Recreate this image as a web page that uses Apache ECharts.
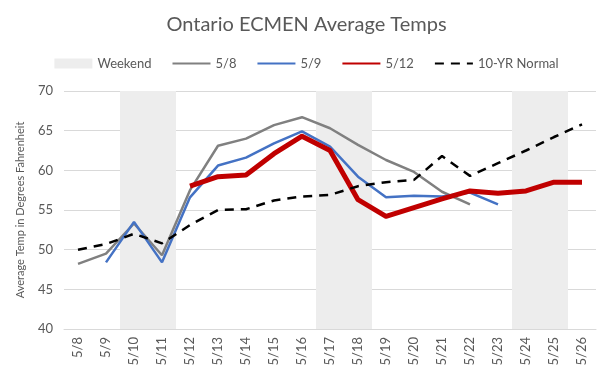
<!DOCTYPE html>
<html>
<head>
<meta charset="utf-8">
<script src="https://cdn.jsdelivr.net/npm/echarts@6/dist/echarts.min.js"></script>
<style>
html, body { margin: 0; padding: 0; background: #fff; }
#chart { width: 613px; height: 375px; }
</style>
</head>
<body>
<div id="chart"></div>
<script>
// categories (forecast days)
var days = ['5/8','5/9','5/10','5/11','5/12','5/13','5/14','5/15','5/16','5/17','5/18','5/19','5/20','5/21','5/22','5/23','5/24','5/25','5/26'];
// weekend shading (full height up to axis max)
var weekend = [null,null,70,70,null,null,null,null,null,70,70,null,null,null,null,null,70,70,null];
// model runs
var run58 = [48.2,49.5,53.3,49.3,57.5,63.1,64.0,65.7,66.7,65.3,63.2,61.3,59.8,57.3,55.7,null,null,null,null];
var run59 = [null,48.4,53.5,48.4,56.6,60.6,61.6,63.4,64.9,63.0,59.2,56.6,56.8,56.7,57.2,55.7,null,null,null];
var run512 = [null,null,null,null,58.0,59.2,59.4,62.1,64.3,62.5,56.3,54.2,55.3,56.4,57.4,57.1,57.4,58.5,58.5];
var normal10 = [50.0,50.7,52.0,50.8,53.1,55.0,55.1,56.2,56.7,56.9,58.0,58.5,58.8,61.8,59.3,60.9,62.5,64.2,65.8];

var txt = '#595959';
var font = 'Lato';
// hide the point symbol in the legend, keep the line
var noDot = { opacity: 0 };

var myChart = echarts.init(document.getElementById('chart'));

var option = {
    animation: false,
    title: {
        text: 'Ontario ECMEN Average Temps',
        left: 'center',
        top: 10,
        textStyle: { fontFamily: font, fontSize: 20, fontWeight: 'normal', color: txt }
    },
    legend: {
        top: 52,
        left: 'center',
        itemWidth: 38,
        itemHeight: 10,
        itemGap: 20,
        textStyle: { fontFamily: font, fontSize: 13, color: txt },
        data: [
            { name: 'Weekend', icon: 'rect' },
            { name: '5/8', itemStyle: noDot },
            { name: '5/9', itemStyle: noDot },
            { name: '5/12', itemStyle: noDot },
            { name: '10-YR Normal', itemStyle: noDot }
        ]
    },
    grid: { left: 64, right: 17, top: 91, bottom: 46 },
    xAxis: {
        type: 'category',
        data: days,
        axisLine: { lineStyle: { color: '#d9d9d9' } },
        axisTick: { length: 5, lineStyle: { color: '#d9d9d9' } },
        axisLabel: { interval: 0, rotate: 90, margin: 8, fontFamily: font, fontSize: 13, color: txt }
    },
    yAxis: {
        type: 'value',
        min: 40,
        max: 70,
        interval: 5,
        name: 'Average Temp in Degrees Fahrenheit',
        nameLocation: 'middle',
        nameGap: 38,
        nameTextStyle: { fontFamily: font, fontSize: 11, color: txt },
        axisLine: { show: false },
        axisTick: { show: false },
        axisLabel: { margin: 11, fontFamily: font, fontSize: 13, color: txt },
        splitLine: { lineStyle: { color: '#d9d9d9' } }
    },
    series: [
        {
            name: 'Weekend',
            type: 'bar',
            data: weekend,
            barWidth: '100%',
            itemStyle: { color: '#ededed' },
            z: 1
        },
        {
            name: '5/8',
            type: 'line',
            data: run58,
            symbol: 'none',
            lineStyle: { color: '#808080', width: 2.5 },
            itemStyle: { color: '#808080' },
            z: 3
        },
        {
            name: '5/9',
            type: 'line',
            data: run59,
            symbol: 'none',
            lineStyle: { color: '#4472c4', width: 2.5 },
            itemStyle: { color: '#4472c4' },
            z: 4
        },
        {
            name: '5/12',
            type: 'line',
            data: run512,
            symbol: 'none',
            lineStyle: { color: '#c00000', width: 5, join: 'round' },
            itemStyle: { color: '#c00000' },
            z: 5
        },
        {
            name: '10-YR Normal',
            type: 'line',
            data: normal10,
            symbol: 'none',
            lineStyle: { color: '#000000', width: 2.5, type: [9, 7] },
            itemStyle: { color: '#000000' },
            z: 6
        }
    ]
};

myChart.setOption(option);
</script>
</body>
</html>
